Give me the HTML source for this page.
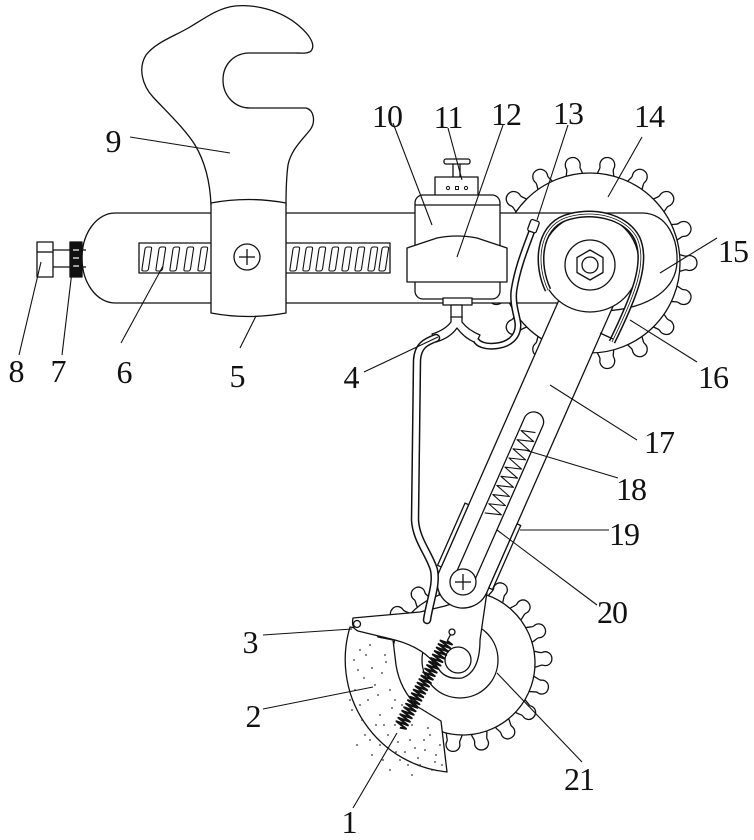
<!DOCTYPE html>
<html>
<head>
<meta charset="utf-8">
<style>
html,body{margin:0;padding:0;background:#fff;}
svg{display:block;}
text{font-family:"Liberation Serif","DejaVu Serif",serif;font-size:32px;fill:#111;text-anchor:middle;letter-spacing:-1px;}
</style>
</head>
<body>
<svg width="754" height="840" viewBox="0 0 754 840" xmlns="http://www.w3.org/2000/svg">
<defs>
  <path id="t14" d="M 88,-8.5 C 93,-8 95,-6 97,-7 C 101,-8.5 107,-6 107,0 C 107,6 101,8.5 97,7 C 95,6 93,8 88,8.5"/>
  <path id="t21" d="M 71,-8 C 76,-7.5 78,-5.5 80,-6.5 C 84,-8 89,-5.5 89,0 C 89,5.5 84,8 80,6.5 C 78,5.5 76,7.5 71,8"/>
  <path id="coil" d="M 3,26 L 6,6 Q 6.5,4 8.5,4 L 11,4 Q 13,4 12.5,6 L 9.5,26 Q 9,28 7,28 L 4.5,28 Q 2.5,28 3,26 Z"/>
</defs>
<rect width="754" height="840" fill="#fff"/>

<g stroke="#111" stroke-width="1.3" fill="#fff" stroke-linejoin="round">

<!-- Gear 14 -->
<g transform="translate(590,263)">
  <use href="#t14" transform="rotate(0)"/><use href="#t14" transform="rotate(20)"/><use href="#t14" transform="rotate(40)"/>
  <use href="#t14" transform="rotate(60)"/><use href="#t14" transform="rotate(80)"/><use href="#t14" transform="rotate(100)"/>
  <use href="#t14" transform="rotate(120)"/><use href="#t14" transform="rotate(140)"/><use href="#t14" transform="rotate(160)"/>
  <use href="#t14" transform="rotate(180)"/><use href="#t14" transform="rotate(200)"/><use href="#t14" transform="rotate(220)"/>
  <use href="#t14" transform="rotate(240)"/><use href="#t14" transform="rotate(260)"/><use href="#t14" transform="rotate(280)"/>
  <use href="#t14" transform="rotate(300)"/><use href="#t14" transform="rotate(320)"/><use href="#t14" transform="rotate(340)"/>
  <circle cx="0" cy="0" r="90"/>
</g>

<!-- Gear 21 -->
<g transform="translate(463,663) rotate(-3)">
  <use href="#t21" transform="rotate(0)"/><use href="#t21" transform="rotate(20)"/><use href="#t21" transform="rotate(40)"/>
  <use href="#t21" transform="rotate(60)"/><use href="#t21" transform="rotate(80)"/><use href="#t21" transform="rotate(100)"/>
  <use href="#t21" transform="rotate(120)"/><use href="#t21" transform="rotate(140)"/><use href="#t21" transform="rotate(160)"/>
  <use href="#t21" transform="rotate(180)"/><use href="#t21" transform="rotate(200)"/><use href="#t21" transform="rotate(220)"/>
  <use href="#t21" transform="rotate(240)"/><use href="#t21" transform="rotate(260)"/><use href="#t21" transform="rotate(280)"/>
  <use href="#t21" transform="rotate(300)"/><use href="#t21" transform="rotate(320)"/><use href="#t21" transform="rotate(340)"/>
  <circle cx="0" cy="0" r="72"/>
</g>
<circle cx="460" cy="660" r="38" fill="none"/>

<!-- Main bar -->
<path d="M 115,213 L 643,213 C 668,214 678,240 677,262 C 676,288 652,308 605,311 L 590,303 L 115,303 A 33 45 0 0 1 115,213 Z"/>

<!-- Screw rod 6 -->
<rect x="139" y="243" width="251" height="30"/>
<g fill="none" stroke-width="1.1">
  <use href="#coil" x="139" y="243"/><use href="#coil" x="153" y="243"/><use href="#coil" x="167" y="243"/>
  <use href="#coil" x="181" y="243"/><use href="#coil" x="195" y="243"/>
  <use href="#coil" x="287" y="243"/><use href="#coil" x="300" y="243"/><use href="#coil" x="313" y="243"/>
  <use href="#coil" x="326" y="243"/><use href="#coil" x="339" y="243"/><use href="#coil" x="352" y="243"/>
  <use href="#coil" x="365" y="243"/><use href="#coil" x="376" y="243"/>
</g>

<!-- Bolt 8 and nut 7 -->
<line x1="53" y1="250" x2="70" y2="250"/><line x1="53" y1="267" x2="70" y2="267"/>
<line x1="82" y1="250" x2="86" y2="250"/><line x1="82" y1="267" x2="86" y2="267"/>
<rect x="37" y="242" width="16" height="35"/>
<line x1="37" y1="252" x2="53" y2="252"/>
<rect x="70" y="242" width="12" height="35" fill="#111"/>
<g stroke="#fff" stroke-width="1.2"><line x1="73" y1="250" x2="79" y2="250"/><line x1="73" y1="258" x2="79" y2="258"/><line x1="73" y1="266" x2="79" y2="266"/></g>

<!-- Wrench 9 -->
<path d="M 211,205 C 210,180 204,160 195,145 C 186,130 165,110 153,97 C 142,85 138,68 146,55 C 156,42 175,36 190,27 C 205,18 218,8 235,6 C 255,4 280,10 298,25 C 310,35 316,45 311,51 C 308,54 300,53 295,53 L 248,53 C 233,54 223,65 223,80 C 223,96 235,108 250,108 L 306,108 C 314,110 316,122 310,130 C 302,140 291,150 288,165 C 286,180 286,195 286,205 Z"/>

<!-- Slider 5 -->
<path d="M 211,203 Q 248,196 286,203 L 286,313 Q 248,320 211,313 Z"/>
<circle cx="247" cy="257" r="13"/>
<line x1="239" y1="257" x2="255" y2="257"/><line x1="247" y1="249" x2="247" y2="265"/>

<!-- Box 10 / 11 / 12 -->
<rect x="453" y="163" width="7" height="15"/>
<rect x="444" y="159" width="26" height="5" rx="2"/>
<rect x="435" y="177" width="43" height="19"/>
<circle cx="448" cy="188" r="1.6" fill="none" stroke-width="1"/><rect x="455.5" y="186.5" width="3" height="3" fill="none" stroke-width="1"/><circle cx="466" cy="188" r="1.6" fill="none" stroke-width="1"/>
<rect x="415" y="195" width="85" height="104" rx="8"/>
<line x1="415" y1="205" x2="500" y2="205"/>
<path d="M 407,248 L 437,238 Q 457,234 477,238 L 507,248 L 507,282 L 407,282 Z"/>
<rect x="443" y="298" width="29" height="7"/>
<rect x="451" y="305" width="11" height="13"/>
<path d="M 451,317 L 451,322 Q 445,330 432,334 L 436,342 Q 450,338 457,328 Q 464,338 476,343 L 480,335 Q 468,330 462,322 L 462,317 Z"/>

<!-- Sector 2 -->
<path d="M 350,627 A 113 113 0 0 0 447,772 L 441,721 L 418,707 Q 400,690 396,665 L 393,640 L 378,637 L 376,632 Z"/>
<g fill="#333" stroke="none">
  <circle cx="360" cy="650" r="0.9"/><circle cx="372" cy="668" r="0.9"/><circle cx="385" cy="655" r="0.9"/><circle cx="355" cy="690" r="0.9"/>
  <circle cx="368" cy="700" r="0.9"/><circle cx="380" cy="715" r="0.9"/><circle cx="395" cy="725" r="0.9"/><circle cx="410" cy="740" r="0.9"/>
  <circle cx="425" cy="750" r="0.9"/><circle cx="435" cy="762" r="0.9"/><circle cx="365" cy="735" r="0.9"/><circle cx="380" cy="745" r="0.9"/>
  <circle cx="400" cy="760" r="0.9"/><circle cx="420" cy="765" r="0.9"/><circle cx="358" cy="670" r="0.9"/><circle cx="390" cy="690" r="0.9"/>
  <circle cx="375" cy="685" r="0.9"/><circle cx="402" cy="705" r="0.9"/><circle cx="412" cy="725" r="0.9"/><circle cx="430" cy="735" r="0.9"/>
  <circle cx="440" cy="745" r="0.9"/><circle cx="352" cy="710" r="0.9"/><circle cx="362" cy="720" r="0.9"/><circle cx="388" cy="735" r="0.9"/>
  <circle cx="405" cy="752" r="0.9"/><circle cx="418" cy="758" r="0.9"/><circle cx="428" cy="728" r="0.9"/><circle cx="366" cy="655" r="0.9"/>
  <circle cx="382" cy="673" r="0.9"/><circle cx="364" cy="678" r="0.9"/><circle cx="392" cy="708" r="0.9"/><circle cx="372" cy="755" r="0.9"/>
  <circle cx="390" cy="770" r="0.9"/><circle cx="412" cy="775" r="0.9"/><circle cx="432" cy="770" r="0.9"/><circle cx="357" cy="745" r="0.9"/>
  <circle cx="436" cy="755" r="0.9"/><circle cx="376" cy="725" r="0.9"/><circle cx="398" cy="742" r="0.9"/><circle cx="386" cy="662" r="0.9"/>
  <circle cx="354" cy="660" r="0.9"/><circle cx="370" cy="645" r="0.9"/><circle cx="378" cy="695" r="0.9"/><circle cx="360" cy="705" r="0.9"/>
  <circle cx="384" cy="725" r="0.9"/><circle cx="396" cy="752" r="0.9"/><circle cx="408" cy="765" r="0.9"/><circle cx="424" cy="740" r="0.9"/>
  <circle cx="442" cy="765" r="0.9"/><circle cx="370" cy="740" r="0.9"/><circle cx="350" cy="700" r="0.9"/><circle cx="395" cy="700" r="0.9"/>
  <circle cx="415" cy="748" r="0.9"/><circle cx="383" cy="760" r="0.9"/>
</g>

<!-- Lower plate 3 -->
<path d="M 353,618 L 420,612 L 445,606 L 487,592 L 480,640 Q 480,672 462,678 Q 445,680 438,668 Q 425,648 395,640 L 358,631 Q 351,628 353,618 Z"/>
<circle cx="357" cy="624" r="3.5"/>

<!-- Arm 17 -->
<g transform="translate(463,582) rotate(-66.2)">
  <path d="M 320,-26 L 0,-26 A 26 26 0 0 0 0,26 L 320,26 Z"/>
  <path d="M 0,-10 L 175,-10 A 10 10 0 0 1 175,10 L 0,10" fill="none"/>
  <polyline fill="none" stroke-width="1.1" points="72,-8 77,8 82,-8 87,8 92,-8 97,8 102,-8 107,8 112,-8 117,8 122,-8 127,8 132,-8 137,8 142,-8 147,8 152,-8 157,8 162,-8 166,6"/>
  <rect x="5" y="-30" width="68" height="4"/>
  <rect x="5" y="26" width="70" height="4"/>
</g>
<circle cx="463" cy="582" r="13"/>
<line x1="455" y1="582" x2="471" y2="582"/><line x1="463" y1="574" x2="463" y2="590"/>

<!-- Pivot of lower gear -->
<circle cx="458" cy="660" r="13"/>

<!-- Hub 15 -->
<circle cx="590" cy="263" r="49"/>
<circle cx="590" cy="265" r="25"/>
<polygon points="590,250 603,257.5 603,272.5 590,280 577,272.5 577,257.5"/>
<circle cx="590" cy="265" r="8"/>

<!-- Spring 1 -->
<g transform="translate(452,632) rotate(118.6)" fill="none">
  <circle cx="0" cy="0" r="3"/>
  <line x1="3" y1="0" x2="10" y2="0"/>
  <polyline stroke-width="2" points="10,0 11,-6 13,6 15,-6 17,6 19,-6 21,6 23,-6 25,6 27,-6 29,6 31,-6 33,6 35,-6 37,6 39,-6 41,6 43,-6 45,6 47,-6 49,6 51,-6 53,6 55,-6 57,6 59,-6 61,6 63,-6 65,6 67,-6 69,6 71,-6 73,6 75,-6 77,6 79,-6 81,6 83,-6 85,6 87,-6 89,6 91,-6 93,6 95,-6 97,6 99,-6 101,6 103,-6 105,6 107,-6 109,0"/>
</g>

<!-- Cable 16 -->
<path d="M 548,290 C 536,265 538,228 565,218 C 590,209 625,215 637,238 C 648,262 635,295 612,342" fill="none" stroke-width="7"/>
<path d="M 548,290 C 536,265 538,228 565,218 C 590,209 625,215 637,238 C 648,262 635,295 612,342" fill="none" stroke="#fff" stroke-width="4"/>
<path d="M 548,290 C 536,265 538,228 565,218 C 590,209 625,215 637,238 C 648,262 635,295 612,342" fill="none" stroke-width="0.8"/>
<line x1="600" y1="333" x2="613" y2="339"/>

<!-- Cable 13 -->
<path d="M 533,228 C 527,245 518,265 514,290 C 512,305 518,318 518,325 C 518,338 508,345 495,346 C 485,347 478,344 476,340" fill="none" stroke-width="7"/>
<path d="M 533,228 C 527,245 518,265 514,290 C 512,305 518,318 518,325 C 518,338 508,345 495,346 C 485,347 478,344 476,340" fill="none" stroke="#fff" stroke-width="4"/>
<rect x="529" y="220" width="9" height="12" rx="2" transform="rotate(20 533 226)"/>

<!-- Long cable from bracket 4 -->
<path d="M 436,338 C 425,342 418,346 417,360 L 415,520 C 416,540 430,555 434,570 C 437,585 430,600 427,620" fill="none" stroke-width="8.5" stroke-linecap="round"/>
<path d="M 436,338 C 425,342 418,346 417,360 L 415,520 C 416,540 430,555 434,570 C 437,585 430,600 427,620" fill="none" stroke="#fff" stroke-width="5.5" stroke-linecap="round"/>

<!-- Leader lines -->
<g fill="none" stroke-width="1.1">
  <line x1="19" y1="355" x2="41" y2="262"/>
  <line x1="62" y1="355" x2="73" y2="263"/>
  <line x1="121" y1="343" x2="163" y2="266"/>
  <line x1="240" y1="348" x2="256" y2="316"/>
  <line x1="364" y1="372" x2="438" y2="337"/>
  <line x1="130" y1="137" x2="230" y2="153"/>
  <line x1="393" y1="123" x2="432" y2="225"/>
  <line x1="448" y1="128" x2="462" y2="180"/>
  <line x1="503" y1="125" x2="457" y2="257"/>
  <line x1="568" y1="125" x2="537" y2="220"/>
  <line x1="642" y1="137" x2="608" y2="197"/>
  <line x1="717" y1="238" x2="660" y2="273"/>
  <line x1="697" y1="362" x2="630" y2="320"/>
  <line x1="637" y1="440" x2="550" y2="385"/>
  <line x1="618" y1="478" x2="525" y2="450"/>
  <line x1="609" y1="530" x2="520" y2="530"/>
  <line x1="597" y1="605" x2="497" y2="530"/>
  <line x1="582" y1="762" x2="497" y2="673"/>
  <line x1="263" y1="635" x2="352" y2="629"/>
  <line x1="263" y1="709" x2="373" y2="687"/>
  <line x1="353" y1="808" x2="397" y2="733"/>
</g>
</g>

<!-- Labels -->
<text x="16" y="382">8</text>
<text x="58" y="382">7</text>
<text x="124" y="383">6</text>
<text x="237" y="387">5</text>
<text x="351" y="388">4</text>
<text x="113" y="152">9</text>
<text x="387" y="127">10</text>
<text x="448" y="128">11</text>
<text x="506" y="125">12</text>
<text x="568" y="124">13</text>
<text x="649" y="127">14</text>
<text x="733" y="262">15</text>
<text x="713" y="388">16</text>
<text x="659" y="453">17</text>
<text x="631" y="500">18</text>
<text x="624" y="545">19</text>
<text x="612" y="623">20</text>
<text x="579" y="790">21</text>
<text x="250" y="653">3</text>
<text x="253" y="727">2</text>
<text x="349" y="833">1</text>
</svg>
</body>
</html>
